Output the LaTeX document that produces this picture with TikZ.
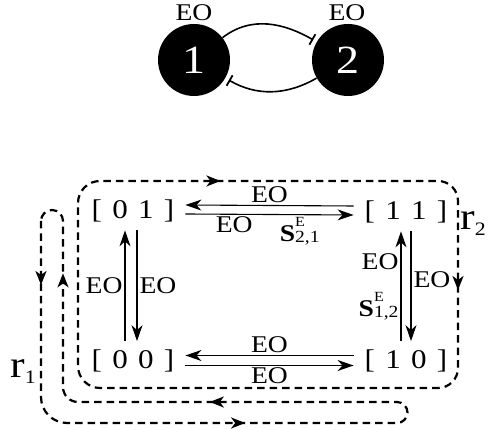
\documentclass[tikz,border=0pt]{standalone}
\usepackage{fontspec}
\setmainfont{Liberation Serif}[FakeStretch=1.15]
\usetikzlibrary{arrows.meta}
\usetikzlibrary{decorations.markings}
\usetikzlibrary{positioning}
\tikzset{agent/.style = {circle, fill=black, text=white, minimum size=72, inner sep=0,
                         font=\fontsize{40}{40}\selectfont}}
\tikzset{state/.style = {inner xsep=11, inner ysep=8, font=\fontsize{27}{27}\selectfont}}
\tikzset{lbl/.style = {inner sep=2, font=\fontsize{24}{24}\selectfont}}
\tikzset{rlab/.style = {inner sep=0, font=\fontsize{38}{38}\selectfont}}
\tikzset{trans/.style = {line width=1.1, -{Stealth[length=16pt, width=11pt, inset=5pt]}}}
\tikzset{inhib/.style = {line width=1.6, shorten >=4pt, -{Bar[width=12pt, line width=1.8pt]}}}
\tikzset{route/.style = {line width=2.2, dash pattern=on 7.5pt off 5pt}}
\tikzset{tip/.style = {postaction={decorate, decoration={markings,
                       mark=at position #1 with {\arrow{Stealth[length=14pt, width=11pt, inset=4pt]}}}}}}
\newcommand{\eo}{EO}
\newcommand{\pair}[2]{[\hspace{0.38em}#1\hspace{0.38em}#2\hspace{0.38em}]}
\newcommand{\strat}[1]{\textbf{S}\rlap{\raisebox{15pt}{\fontsize{14}{14}\selectfont E}}%
  \raisebox{-1pt}{\fontsize{17}{17}\selectfont #1}}
\newcommand{\rsub}[1]{r\raisebox{-6pt}{\fontsize{19}{19}\selectfont #1}}

\begin{document}
\begin{tikzpicture}[x=1pt, y=1pt]
  \useasboundingbox (0,0) rectangle (488,430);

  % the two agents
  \node [agent] (a1) at (194,370) {1};
  \node [agent] (a2) at (348,370) {2};
  \node [lbl] (e1) at (194,417) {\eo};
  \node [lbl] (e2) at (347,417) {\eo};
  \draw [inhib] (a1) to [out=38, in=150] (a2);
  \draw [inhib] (a2) to [out=-150, in=-30] (a1);

  % joint states
  \node [state] (s01) at (133,219) {\pair{0}{1}};
  \node [state] (s11) at (406,218) {\pair{1}{1}};
  \node [state] (s00) at (133,69.5) {\pair{0}{0}};
  \node [state] (s10) at (406,69.5) {\pair{1}{0}};

  \draw [trans] ([yshift=6]s11.west) -- ([yshift=6]s01.east) node [lbl, midway, above] {\eo};
  \draw [trans] ([yshift=-3]s01.east) -- ([yshift=-3]s11.west)
    node [lbl, pos=0.29, below] {\eo} node [lbl, pos=0.68, below] {\strat{2,1}};
  \draw [trans] ([yshift=5]s10.west) -- ([yshift=5]s00.east) node [lbl, midway, above] {\eo};
  \draw [trans] ([yshift=-5]s00.east) -- ([yshift=-5]s10.west) node [lbl, midway, below] {\eo};

  \draw [trans] ([xshift=-8]s00.north) -- ([xshift=-8]s01.south) node [lbl, midway, left] {\eo};
  \draw [trans] ([xshift=4]s01.south) -- ([xshift=4]s00.north) node [lbl, midway, right] {\eo};
  \draw [trans] ([xshift=-5]s10.north) -- ([xshift=-5]s11.south)
    node [lbl, pos=0.72, left] {\eo} node [lbl, pos=0.32, left] {\strat{1,2}};
  \draw [trans] ([xshift=5]s11.south) -- ([xshift=5]s10.north) node [lbl, pos=0.44, right] {\eo};

  % routes
  \draw [route, tip=242pt, tip=580pt] (78,140) -- (78,227)
    arc [start angle=180, end angle=90, radius=22] -- (438,249)
    arc [start angle=90, end angle=0, radius=20] -- (458,62)
    arc [start angle=0, end angle=-90, radius=20] -- (100,42)
    arc [start angle=270, end angle=180, radius=22] -- cycle;
  \draw [route, tip=64pt, tip=395pt, tip=767pt, tip=1036pt] (41,209) -- (41,33)
    arc [start angle=180, end angle=270, radius=26] -- (397,7)
    arc [start angle=-90, end angle=90, radius=10.5] -- (78,28)
    arc [start angle=270, end angle=180, radius=15] -- (63,209)
    arc [start angle=0, end angle=180, radius=11] -- cycle;

  \node [rlab, anchor=base west] (r1) at (10,52) {\rsub{1}};
  \node [rlab, anchor=base west] (r2) at (460,200) {\rsub{2}};
\end{tikzpicture}
\end{document}
